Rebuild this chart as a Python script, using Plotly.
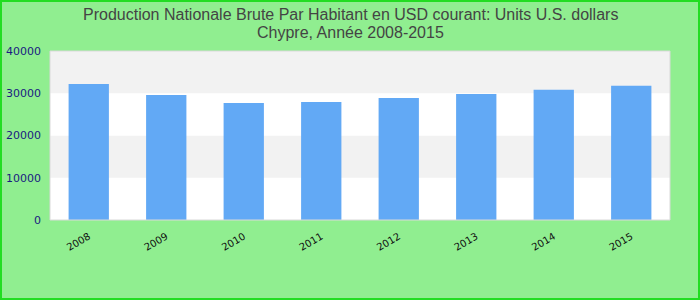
import plotly.graph_objects as go

years = ["2008", "2009", "2010", "2011", "2012", "2013", "2014", "2015"]
values = [32200, 29600, 27700, 27950, 28900, 29850, 30800, 31750]
y_ticks = [0, 10000, 20000, 30000, 40000]
title_lines = ["Production Nationale Brute Par Habitant en USD courant: Units U.S. dollars",
               "Chypre, Année 2008-2015"]

W, H = 700, 300
ml, mr, mt, mb = 50, 30, 51, 80
pw, ph = W - ml - mr, H - mt - mb

fig = go.Figure(go.Bar(x=years, y=values, marker_color="#62A9F5", marker_line_width=0))

shapes = []
for i in range(len(y_ticks) - 1):
    shapes.append(dict(type="rect", xref="paper", yref="y", x0=0, x1=1,
                       y0=y_ticks[i], y1=y_ticks[i + 1], layer="below", line_width=0,
                       fillcolor="#F2F2F2" if i % 2 == 1 else "#FFFFFF"))
shapes.append(dict(type="rect", xref="paper", yref="paper", x0=0, x1=1, y0=0, y1=1,
                   line=dict(color="#D9D9D9", width=1), layer="above"))
shapes.append(dict(type="rect", xref="paper", yref="paper",
                   x0=(-ml + 1) / pw, x1=(pw + mr - 1) / pw,
                   y0=(-mb + 1) / ph, y1=(ph + mt - 1) / ph,
                   line=dict(color="#22DD22", width=2)))

annotations = []
for k, (line, py) in enumerate(zip(title_lines, [14, 33])):
    annotations.append(dict(text=line, xref="paper", yref="paper",
                            x=(W / 2 - ml) / pw, y=1 + (mt - py) / ph,
                            xanchor="center", yanchor="middle", showarrow=False,
                            font=dict(family="Liberation Sans, Arial", size=16, color="#444444")))

fig.update_layout(
    width=W, height=H,
    margin=dict(l=ml, r=mr, t=mt, b=mb, autoexpand=False),
    paper_bgcolor="#90EE90", plot_bgcolor="#FFFFFF",
    bargap=0.48,
    showlegend=False,
    xaxis=dict(type="category", tickangle=-30, showgrid=False, zeroline=False, showline=False,
               automargin=False, ticklabelstandoff=8,
               tickfont=dict(family="DejaVu Sans", size=10, color="#111111")),
    yaxis=dict(range=[0, 40000], tickvals=y_ticks, tickformat="d", showgrid=False, zeroline=False,
               showline=False, automargin=False, ticklabelstandoff=8,
               tickfont=dict(family="DejaVu Sans", size=11, color="#1A1A80")),
    shapes=shapes,
    annotations=annotations,
)

fig.write_html("out.html")
